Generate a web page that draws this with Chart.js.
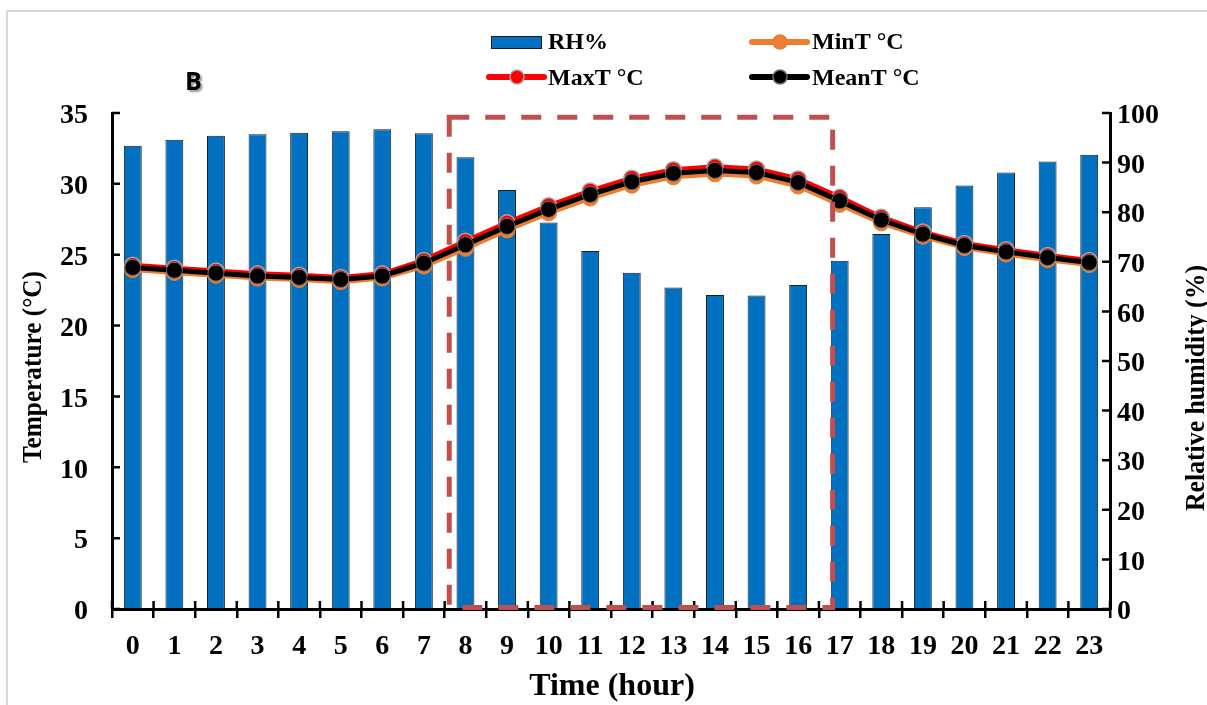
<!DOCTYPE html>
<html>
<head>
<meta charset="utf-8">
<script src="https://cdn.jsdelivr.net/npm/chart.js@4.4.1/dist/chart.umd.min.js"></script>
<style>
  html, body { margin: 0; padding: 0; background: #fff; overflow: hidden; }
  canvas { display: block; }
</style>
</head>
<body>
<canvas id="climate" width="1207" height="705"></canvas>
<script>
// Hourly climate record: relative humidity and air temperature
const hours = ['0','1','2','3','4','5','6','7','8','9','10','11','12','13','14','15','16','17','18','19','20','21','22','23'];
const rhPercent = [93.4, 94.6, 95.4, 95.7, 96.0, 96.3, 96.7, 95.9, 91.1, 84.5, 77.9, 72.2,
                   67.8, 64.8, 63.3, 63.2, 65.3, 70.2, 75.6, 81.0, 85.4, 88.0, 90.2, 91.6];
const minT  = [23.95, 23.75, 23.55, 23.35, 23.25, 23.10, 23.35, 24.20, 25.45, 26.75, 27.95, 29.00,
               29.90, 30.50, 30.70, 30.55, 29.85, 28.55, 27.25, 26.30, 25.50, 25.05, 24.65, 24.30];
const maxT  = [24.25, 24.05, 23.85, 23.65, 23.55, 23.40, 23.65, 24.60, 25.95, 27.25, 28.45, 29.50,
               30.40, 31.00, 31.20, 31.05, 30.35, 29.05, 27.65, 26.60, 25.80, 25.35, 24.95, 24.60];
const meanT = [24.10, 23.90, 23.70, 23.50, 23.40, 23.25, 23.50, 24.40, 25.70, 27.00, 28.20, 29.25,
               30.15, 30.75, 30.95, 30.80, 30.10, 28.80, 27.45, 26.45, 25.65, 25.20, 24.80, 24.45];
const tempAxis = { min: 0, max: 35, step: 5 };
const rhAxis   = { min: 0, max: 100, step: 10 };

// Daytime period framed by the dashed box (category positions / temperature)
const daytimeBox = { fromHour: 7.61, toHour: 16.83, topTemp: 34.7, bottomTemp: 0.1 };

const SERIF = "'Liberation Serif', 'DejaVu Serif', serif";

const decorations = {
  id: 'decorations',
  beforeDraw(chart) {
    const ctx = chart.ctx;
    ctx.save();
    ctx.fillStyle = '#fff';
    ctx.fillRect(0, 0, chart.width, chart.height);
    // outer frame
    ctx.strokeStyle = '#d9d9d9';
    ctx.lineWidth = 2;
    ctx.beginPath();
    ctx.moveTo(7, chart.height + 5);
    ctx.lineTo(7, 11);
    ctx.lineTo(chart.width + 5, 11);
    ctx.stroke();
    ctx.restore();
  },
  afterDraw(chart) {
    const ctx = chart.ctx;
    const xs = chart.scales.x, yt = chart.scales.yT, yr = chart.scales.yRH;
    const area = chart.chartArea;
    ctx.save();

    // inward tick marks
    ctx.strokeStyle = '#000';
    ctx.lineWidth = 2.5;
    ctx.beginPath();
    for (let i = 0; i <= hours.length; i++) {
      const px = xs.getPixelForValue(i - 0.5);
      ctx.moveTo(px, area.bottom);
      ctx.lineTo(px, area.bottom - 8);
    }
    yt.ticks.forEach((t, i) => {
      const py = yt.getPixelForTick(i);
      ctx.moveTo(area.left, py);
      ctx.lineTo(area.left + 8, py);
    });
    yr.ticks.forEach((t, i) => {
      const py = yr.getPixelForTick(i);
      ctx.moveTo(area.right, py);
      ctx.lineTo(area.right - 8, py);
    });
    ctx.stroke();

    // dashed daytime box
    const l = xs.getPixelForValue(daytimeBox.fromHour);
    const r = xs.getPixelForValue(daytimeBox.toHour);
    const t = yt.getPixelForValue(daytimeBox.topTemp);
    const b = yt.getPixelForValue(daytimeBox.bottomTemp);
    ctx.strokeStyle = '#C0504D';
    ctx.lineWidth = 5;
    ctx.setLineDash([20, 16]);
    ctx.beginPath();
    ctx.moveTo(l, t);
    ctx.lineTo(r, t);
    ctx.lineTo(r, b);
    ctx.lineTo(l, b);
    ctx.closePath();
    ctx.stroke();
    ctx.setLineDash([]);

    // axis titles
    ctx.fillStyle = '#000';
    ctx.textAlign = 'center';
    ctx.textBaseline = 'alphabetic';
    ctx.font = 'bold 27px ' + SERIF;
    ctx.save();
    ctx.translate(41, 367);
    ctx.rotate(-Math.PI / 2);
    ctx.fillText('Temperature (°C)', 0, 0, 192);
    ctx.restore();
    ctx.save();
    ctx.translate(1204, 388);
    ctx.rotate(-Math.PI / 2);
    ctx.fillText('Relative humidity (%)', 0, 0, 246);
    ctx.restore();
    ctx.font = 'bold 32px ' + SERIF;
    ctx.fillText('Time (hour)', 612, 695, 170);

    // panel letter
    ctx.save();
    ctx.font = "bold 25px 'Open Sans', 'DejaVu Sans', sans-serif";
    ctx.textAlign = 'left';
    ctx.shadowColor = 'rgba(0,0,0,0.4)';
    ctx.shadowOffsetX = 2;
    ctx.shadowOffsetY = 2;
    ctx.shadowBlur = 2;
    ctx.fillText('B', 185, 90);
    ctx.restore();

    // legend in two columns
    const cols = [{ icon: 489, text: 548 }, { icon: 752, text: 812 }];
    const rows = [{ mid: 42, base: 49 }, { mid: 77, base: 85 }];
    ctx.font = 'bold 24px ' + SERIF;
    ctx.textAlign = 'left';
    chart.data.datasets.forEach((ds, i) => {
      const c = cols[i % 2], rw = rows[Math.floor(i / 2)];
      if (ds.type === 'bar') {
        ctx.fillStyle = ds.backgroundColor;
        ctx.fillRect(c.icon + 2, rw.mid - 6, 51, 13);
        ctx.strokeStyle = ds.borderColor;
        ctx.lineWidth = 1;
        ctx.strokeRect(c.icon + 2.5, rw.mid - 5.5, 50, 12);
      } else {
        ctx.strokeStyle = ds.borderColor;
        ctx.lineWidth = 6;
        ctx.lineCap = 'round';
        ctx.beginPath();
        ctx.moveTo(c.icon, rw.mid);
        ctx.lineTo(c.icon + 55, rw.mid);
        ctx.stroke();
        ctx.lineCap = 'butt';
        ctx.beginPath();
        ctx.arc(c.icon + 28, rw.mid, 7, 0, Math.PI * 2);
        ctx.fillStyle = ds.pointBackgroundColor;
        ctx.fill();
        ctx.lineWidth = 1.5;
        ctx.strokeStyle = ds.pointBorderColor;
        ctx.stroke();
      }
      ctx.fillStyle = '#000';
      ctx.fillText(ds.label, c.text, rw.base);
    });
    ctx.restore();
  }
};

const tickFont = { family: SERIF, size: 28, weight: 'bold' };

new Chart(document.getElementById('climate'), {
  data: {
    labels: hours,
    datasets: [
      {
        type: 'bar', label: 'RH%', data: rhPercent, yAxisID: 'yRH', order: 4,
        backgroundColor: '#0070C0', borderColor: '#1c1c1c', borderWidth: 1,
        barPercentage: 0.43, categoryPercentage: 1.0
      },
      {
        type: 'line', label: 'MinT °C', data: minT, yAxisID: 'yT', order: 3,
        borderColor: '#ED7D31', borderWidth: 5, tension: 0,
        pointRadius: 8, pointBackgroundColor: '#ED7D31', pointBorderColor: '#ED7D31', pointBorderWidth: 1
      },
      {
        type: 'line', label: 'MaxT °C', data: maxT, yAxisID: 'yT', order: 2,
        borderColor: '#FF0000', borderWidth: 5, tension: 0,
        pointRadius: 8, pointBackgroundColor: '#FF0000', pointBorderColor: '#a6a6a6', pointBorderWidth: 1.5
      },
      {
        type: 'line', label: 'MeanT °C', data: meanT, yAxisID: 'yT', order: 1,
        borderColor: '#000000', borderWidth: 5, tension: 0,
        pointRadius: 8, pointBackgroundColor: '#000000', pointBorderColor: '#6f6f6f', pointBorderWidth: 1
      }
    ]
  },
  options: {
    responsive: false,
    animation: false,
    events: [],
    layout: { padding: { top: 113, left: 0, right: 0, bottom: 0 } },
    plugins: { legend: { display: false }, tooltip: { enabled: false }, title: { display: false } },
    scales: {
      x: {
        type: 'category',
        offset: true,
        grid: { display: true, drawOnChartArea: false, drawTicks: true, tickLength: 9, color: '#000', lineWidth: 2.5, offset: true },
        border: { display: true, color: '#000', width: 3, z: 1 },
        ticks: { font: tickFont, color: '#000', padding: 12, maxRotation: 0, autoSkip: false },
        afterFit(scale) { scale.height = 96; }
      },
      yT: {
        type: 'linear', position: 'left',
        min: tempAxis.min, max: tempAxis.max,
        grid: { display: false, drawTicks: false },
        border: { display: true, color: '#000', width: 3, z: 1 },
        ticks: { stepSize: tempAxis.step, font: tickFont, color: '#000', padding: 24, labelOffset: 3 },
        afterFit(scale) { scale.width = 112; }
      },
      yRH: {
        type: 'linear', position: 'right',
        min: rhAxis.min, max: rhAxis.max,
        grid: { display: false, drawTicks: false },
        border: { display: true, color: '#000', width: 3, z: 1 },
        ticks: { stepSize: rhAxis.step, font: tickFont, color: '#000', padding: 7, labelOffset: 3 },
        afterFit(scale) { scale.width = 97; }
      }
    }
  },
  plugins: [decorations]
});
</script>
</body>
</html>
